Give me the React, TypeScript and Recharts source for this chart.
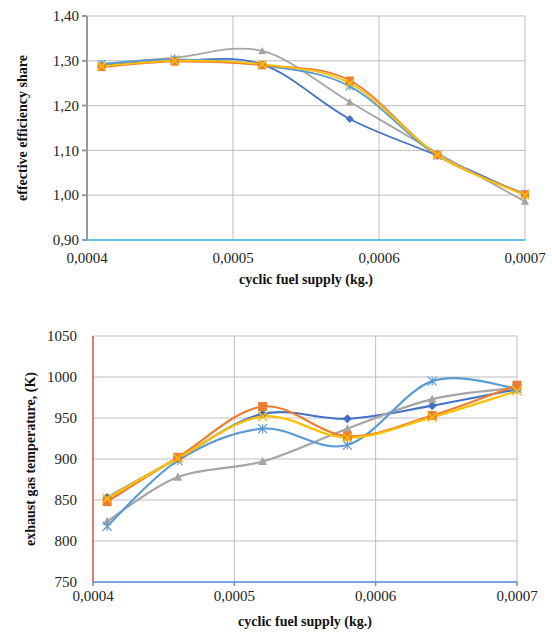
import React from "react";
import { CartesianGrid, Label, Line, LineChart, XAxis, YAxis } from "recharts";

const fuelSupply = [0.00041, 0.00046, 0.00052, 0.00058, 0.00064, 0.0007];
const xTicks = [0.0004, 0.0005, 0.0006, 0.0007];

// effective efficiency share
const effA = [1.29, 1.3, 1.292, 1.17, 1.088, 1.0];
const effB = [1.286, 1.298, 1.29, 1.256, 1.09, 1.002];
const effC = [1.293, 1.307, 1.322, 1.208, 1.094, 0.986];
const effD = [1.288, 1.3, 1.292, 1.25, 1.09, 1.0];
const effE = [1.293, 1.303, 1.29, 1.243, 1.088, 1.003];
const effTicks = [0.9, 1.0, 1.1, 1.2, 1.3, 1.4];

// exhaust gas temperature, K
const tempA = [853, 901, 955, 949, 965, 985];
const tempB = [848, 902, 964, 928, 953, 990];
const tempC = [824, 878, 897, 937, 973, 987];
const tempD = [852, 901, 952, 926, 951, 983];
const tempE = [818, 898, 937, 917, 995, 986];
const tempTicks = [750, 800, 850, 900, 950, 1000, 1050];

const effData = fuelSupply.map((x, i) => ({ x, a: effA[i], b: effB[i], c: effC[i], d: effD[i], e: effE[i] }));
const tempData = fuelSupply.map((x, i) => ({ x, a: tempA[i], b: tempB[i], c: tempC[i], d: tempD[i], e: tempE[i] }));

const FONT = "Liberation Serif, Times New Roman, serif";

// Excel-style smoothed line (Catmull-Rom bezier)
function excelCurve(context: any) {
  let pts: number[][] = [];
  return {
    areaStart() {},
    areaEnd() {},
    lineStart() {
      pts = [];
    },
    lineEnd() {
      if (!pts.length) return;
      context.moveTo(pts[0][0], pts[0][1]);
      for (let i = 0; i < pts.length - 1; i++) {
        const p0 = pts[i - 1] || pts[i];
        const p1 = pts[i];
        const p2 = pts[i + 1];
        const p3 = pts[i + 2] || p2;
        context.bezierCurveTo(
          p1[0] + (p2[0] - p0[0]) / 6,
          p1[1] + (p2[1] - p0[1]) / 6,
          p2[0] - (p3[0] - p1[0]) / 6,
          p2[1] - (p3[1] - p1[1]) / 6,
          p2[0],
          p2[1]
        );
      }
    },
    point(x: number, y: number) {
      pts.push([+x, +y]);
    },
  };
}

const Marker = (shape: string, color: string, r: number) => (props: any) => {
  const { cx, cy, index } = props;
  if (cx == null || cy == null) return <g key={index} />;
  if (shape === "diamond")
    return <path key={index} d={`M${cx},${cy - r}L${cx + r},${cy}L${cx},${cy + r}L${cx - r},${cy}Z`} fill={color} />;
  if (shape === "square")
    return <rect key={index} x={cx - r} y={cy - r} width={2 * r} height={2 * r} fill={color} />;
  if (shape === "triangle")
    return <path key={index} d={`M${cx},${cy - r}L${cx + r},${cy + r * 0.8}L${cx - r},${cy + r * 0.8}Z`} fill={color} />;
  if (shape === "x")
    return (
      <path key={index} d={`M${cx - r},${cy - r}L${cx + r},${cy + r}M${cx + r},${cy - r}L${cx - r},${cy + r}`} stroke={color} strokeWidth={1.5} />
    );
  return (
    <path
      key={index}
      d={`M${cx - r},${cy - r}L${cx + r},${cy + r}M${cx + r},${cy - r}L${cx - r},${cy + r}M${cx},${cy - r}L${cx},${cy + r}`}
      stroke={color}
      strokeWidth={1.2}
    />
  );
};

const series = [
  { key: "a", color: "#4472C4", shape: "diamond" },
  { key: "c", color: "#A5A5A5", shape: "triangle" },
  { key: "e", color: "#5B9BD5", shape: "star" },
  { key: "b", color: "#ED7D31", shape: "square" },
  { key: "d", color: "#FFC000", shape: "x" },
];

const fmtX = (v: number) => v.toFixed(4).replace(".", ",");
const fmtEff = (v: number) => v.toFixed(2).replace(".", ",");

const XTick = (props: any) => (
  <text x={props.x} y={props.y} dy="0.75em" textAnchor="middle" fontFamily={FONT} fontSize={15} fill="#222">
    {fmtX(props.payload.value)}
  </text>
);

const YTick = (fmt: (v: number) => string) => (props: any) => (
  <text x={props.x} y={props.y} dy="0.35em" textAnchor="end" fontFamily={FONT} fontSize={15} fill="#222">
    {fmt(props.payload.value)}
  </text>
);

export default function App() {
  const title = { fontFamily: FONT, fontSize: 14, fontWeight: 700, fill: "#111" };
  return (
    <div style={{ position: "absolute", left: 0, top: 0, width: 552, height: 632, background: "#fff", fontFamily: FONT }}>
      <LineChart width={552} height={310} data={effData} margin={{ top: 16, right: 27, left: 0, bottom: 10 }}>
        <CartesianGrid stroke="#BDBDBD" strokeWidth={1} />
        <XAxis
          dataKey="x"
          type="number"
          domain={[0.0004, 0.0007]}
          ticks={xTicks}
          stroke="#3DB8EC"
          strokeWidth={1.5}
          tickLine={false}
          tick={XTick}
          tickMargin={6}
          height={60}
        >
          <Label value="cyclic fuel supply (kg.)" position="insideBottom" offset={16} style={title} />
        </XAxis>
        <YAxis
          type="number"
          domain={[0.9, 1.4]}
          ticks={effTicks}
          stroke="#9A9A9A"
          strokeWidth={2}
          tickLine={{ stroke: "#9A9A9A" }}
          tickSize={5}
          tickMargin={3}
          tick={YTick(fmtEff)}
          width={87}
        >
          <Label value="effective efficiency share" angle={-90} position="insideLeft" offset={22} style={{ ...title, textAnchor: "middle" }} />
        </YAxis>
        {series.map((s) => (
          <Line
            key={s.key}
            dataKey={s.key}
            type={excelCurve as any}
            stroke={s.color}
            strokeWidth={1.8}
            dot={Marker(s.shape, s.color, 4)}
            activeDot={false}
            isAnimationActive={false}
          />
        ))}
      </LineChart>
      <LineChart width={552} height={322} data={tempData} margin={{ top: 26, right: 35, left: 0, bottom: 0 }}>
        <CartesianGrid stroke="#BDBDBD" strokeWidth={1} />
        <XAxis
          dataKey="x"
          type="number"
          domain={[0.0004, 0.0007]}
          ticks={xTicks}
          stroke="#5B8FD9"
          strokeWidth={1.5}
          tickLine={{ stroke: "#5B8FD9" }}
          tickSize={4}
          tick={XTick}
          tickMargin={4}
          height={50}
        >
          <Label value="cyclic fuel supply (kg.)" position="insideBottom" offset={6} style={title} />
        </XAxis>
        <YAxis
          type="number"
          domain={[750, 1050]}
          ticks={tempTicks}
          stroke="#E03A3A"
          strokeWidth={1.2}
          tickLine={false}
          tick={YTick((v) => String(v))}
          tickMargin={10}
          width={93}
        >
          <Label value="exhaust gas temperature, (K)" angle={-90} position="insideLeft" offset={30} style={{ ...title, textAnchor: "middle" }} />
        </YAxis>
        {series.map((s) => (
          <Line
            key={s.key}
            dataKey={s.key}
            type={excelCurve as any}
            stroke={s.color}
            strokeWidth={2.2}
            dot={Marker(s.shape, s.color, 4.5)}
            activeDot={false}
            isAnimationActive={false}
          />
        ))}
      </LineChart>
    </div>
  );
}
